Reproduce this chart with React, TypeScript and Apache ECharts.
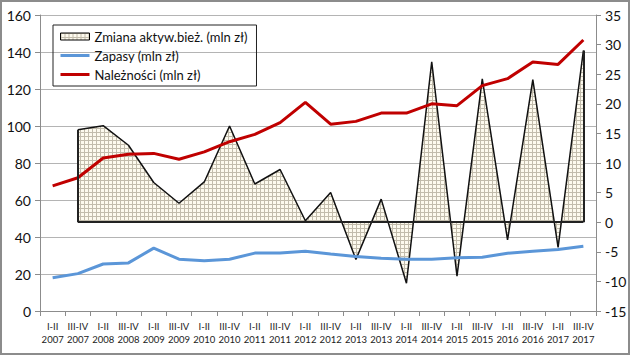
import React, { useEffect, useRef } from 'react';
import * as echarts from 'echarts';

const categories = [
  'I-II\n2007', 'III-IV\n2007', 'I-II\n2008', 'III-IV\n2008', 'I-II\n2009', 'III-IV\n2009',
  'I-II\n2010', 'III-IV\n2010', 'I-II\n2011', 'III-IV\n2011', 'I-II\n2012', 'III-IV\n2012',
  'I-II\n2013', 'III-IV\n2013', 'I-II\n2014', 'III-IV\n2014', 'I-II\n2015', 'III-IV\n2015',
  'I-II\n2016', 'III-IV\n2016', 'I-II\n2017', 'III-IV\n2017',
];
const zmiana: (number | null)[] = [
  null, 15.6, 16.3, 13.0, 6.7, 3.2, 6.8, 16.25, 6.45, 8.9, 0.25, 5.0,
  -6.3, 3.9, -10.3, 27.1, -9.1, 24.2, -3.0, 24.1, -4.25, 29.0,
];
const zapasy = [
  18, 20.2, 25.4, 26, 34, 28, 27.2, 28, 31.3, 31.3, 32.3, 30.8,
  29.5, 28.5, 28, 28, 28.8, 29, 31.2, 32.3, 33.2, 35,
];
const naleznosci = [
  67.6, 72, 82.7, 84.7, 85.2, 82, 86, 91.5, 95.5, 101.8, 112.8, 101,
  102.5, 107, 107, 112, 111, 121.8, 125.6, 134.6, 133.3, 146.5,
];
const leftTicks = { min: 0, max: 160, interval: 20 };
const rightTicks = { min: -15, max: 35, interval: 5 };

const NAME_Z = 'Zmiana aktyw.bież. (mln zł)';
const NAME_ZAP = 'Zapasy (mln zł)';
const NAME_N = 'Należności (mln zł)';

function makePattern() {
  const c = document.createElement('canvas');
  c.width = 4;
  c.height = 4;
  const ctx = c.getContext('2d')!;
  ctx.fillStyle = '#fdfaee';
  ctx.fillRect(0, 0, 4, 4);
  ctx.fillStyle = '#c2bcac';
  ctx.fillRect(0, 0, 4, 1);
  ctx.fillRect(0, 0, 1, 4);
  return { image: c, repeat: 'repeat' } as any;
}

export default function App() {
  const ref = useRef<HTMLDivElement>(null);
  useEffect(() => {
    if (!ref.current) return;
    const chart = echarts.init(ref.current, null, { renderer: 'svg' });
    const pattern = makePattern();
    const firstIdx = zmiana.findIndex((v) => v !== null);
    const lastIdx = zmiana.length - 1;
    const font = 'Lato';
    const lineIcon = 'path://M0,0H29V3H0Z';
    chart.setOption({
      animation: false,
      backgroundColor: '#fff',
      textStyle: { fontFamily: font },
      graphic: [
        {
          type: 'rect',
          shape: { x: 1, y: 1, width: 628, height: 353 },
          style: { fill: 'none', stroke: '#8c8c8c', lineWidth: 2 },
          silent: true,
          z: 100,
        },
      ],
      grid: { left: 40, right: 34, top: 15, bottom: 44 },
      legend: {
        orient: 'vertical',
        left: 53,
        top: 25,
        padding: [4, 9, 4, 7],
        borderColor: '#222',
        borderWidth: 1,
        itemWidth: 29,
        itemHeight: 7,
        itemGap: 4,
        symbolKeepAspect: true,
        textStyle: { fontFamily: font, fontSize: 13, color: '#111', lineHeight: 15 },
        data: [
          { name: NAME_Z, icon: 'rect', itemStyle: { color: pattern, borderColor: '#000', borderWidth: 1 } },
          { name: NAME_ZAP, icon: lineIcon, itemStyle: { color: '#5b96d8', borderWidth: 0 } },
          { name: NAME_N, icon: lineIcon, itemStyle: { color: '#c00000', borderWidth: 0 } },
        ],
      },
      xAxis: {
        type: 'category',
        data: categories,
        boundaryGap: true,
        axisLine: { lineStyle: { color: '#8c8c8c' } },
        axisTick: { show: true, length: 5, lineStyle: { color: '#8c8c8c' } },
        axisLabel: { fontFamily: font, fontSize: 9.5, color: '#222', lineHeight: 13, margin: 9, interval: 0 },
        splitLine: { show: false },
      },
      yAxis: [
        {
          type: 'value',
          ...leftTicks,
          axisLine: { show: true, lineStyle: { color: '#8c8c8c' } },
          axisTick: { show: true, length: 5, lineStyle: { color: '#8c8c8c' } },
          axisLabel: { fontFamily: font, fontSize: 14, color: '#111', margin: 9 },
          splitLine: { show: true, lineStyle: { color: '#b4b4b4', width: 1 } },
        },
        {
          type: 'value',
          position: 'right',
          ...rightTicks,
          axisLine: { show: true, lineStyle: { color: '#8c8c8c' } },
          axisTick: { show: true, length: 5, lineStyle: { color: '#8c8c8c' } },
          axisLabel: { fontFamily: font, fontSize: 14, color: '#111', margin: 9 },
          splitLine: { show: false },
        },
      ],
      series: [
        {
          name: NAME_Z,
          type: 'line',
          yAxisIndex: 1,
          data: zmiana,
          symbol: 'none',
          lineStyle: { color: '#111', width: 1.5 },
          itemStyle: { color: pattern, borderColor: '#000' },
          areaStyle: { color: pattern, opacity: 1 },
          z: 1,
          markLine: {
            silent: true,
            symbol: 'none',
            label: { show: false },
            lineStyle: { color: '#222', width: 2, type: 'solid' },
            data: [
              [{ coord: [categories[firstIdx], 0] }, { coord: [categories[lastIdx], 0] }],
              [{ coord: [categories[firstIdx], 0] }, { coord: [categories[firstIdx], zmiana[firstIdx]] }],
              [{ coord: [categories[lastIdx], 0] }, { coord: [categories[lastIdx], zmiana[lastIdx]] }],
            ],
          },
        },
        {
          name: NAME_ZAP,
          type: 'line',
          yAxisIndex: 0,
          data: zapasy,
          symbol: 'none',
          lineStyle: { color: '#5b96d8', width: 3 },
          itemStyle: { color: '#5b96d8' },
          z: 3,
        },
        {
          name: NAME_N,
          type: 'line',
          yAxisIndex: 0,
          data: naleznosci,
          symbol: 'none',
          lineStyle: { color: '#c00000', width: 3 },
          itemStyle: { color: '#c00000' },
          z: 4,
        },
      ],
    });
    return () => chart.dispose();
  }, []);
  return (
    <div
      ref={ref}
      style={{ position: 'fixed', left: 0, top: 0, width: 630, height: 355 }}
    />
  );
}
